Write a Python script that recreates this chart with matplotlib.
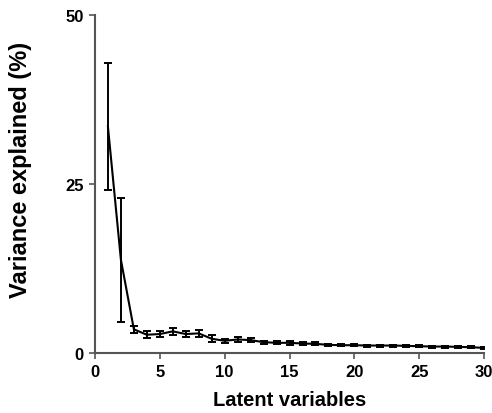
import matplotlib
matplotlib.use("Agg")
import matplotlib.pyplot as plt

plt.rcParams['font.family'] = ['Liberation Sans', 'DejaVu Sans']
plt.rcParams['font.weight'] = 'bold'

latent = list(range(1, 31))
variance = [33.5, 13.8, 3.5, 2.7, 2.8, 3.2, 2.8, 2.9, 2.1, 1.8,
            2.0, 1.9, 1.6, 1.5, 1.5, 1.4, 1.35, 1.2, 1.15, 1.15,
            1.1, 1.1, 1.1, 1.05, 1.0, 0.95, 0.95, 0.9, 0.85, 0.75]
err = [9.4, 9.2, 0.5, 0.5, 0.45, 0.5, 0.5, 0.55, 0.5, 0.3,
       0.35, 0.35, 0.2, 0.2, 0.25, 0.2, 0.2, 0.15, 0.15, 0.15,
       0.15, 0.15, 0.15, 0.15, 0.15, 0.15, 0.15, 0.15, 0.15, 0.2]

fig = plt.figure(figsize=(4.92, 4.14), dpi=100)
ax = fig.add_axes([0.193, 0.145, 0.791, 0.816])
ax.errorbar(latent, variance, yerr=err, color='black', lw=1.5,
            elinewidth=1.4, capsize=3, capthick=1.4)
ax.set_xlim(0, 30)
ax.set_ylim(0, 50)
ax.set_xticks([0, 5, 10, 15, 20, 25, 30])
ax.set_yticks([0, 25, 50])
for s in ['top', 'right']:
    ax.spines[s].set_visible(False)
for s in ['left', 'bottom']:
    ax.spines[s].set_color('#555555')
    ax.spines[s].set_linewidth(1.5)
ax.tick_params(direction='out', length=4, width=1.2, color='#555555',
               labelsize=12, pad=4)
for lab in ax.get_xticklabels() + ax.get_yticklabels():
    lab.set_fontweight('bold')
ax.set_xlabel('Latent variables', fontsize=14.5, fontweight='bold', labelpad=8)
ax.set_ylabel('Variance explained (%)', fontsize=17, fontweight='bold')
ax.yaxis.set_label_coords(-0.162, 0.544)
fig.savefig('out.png', dpi=100)
